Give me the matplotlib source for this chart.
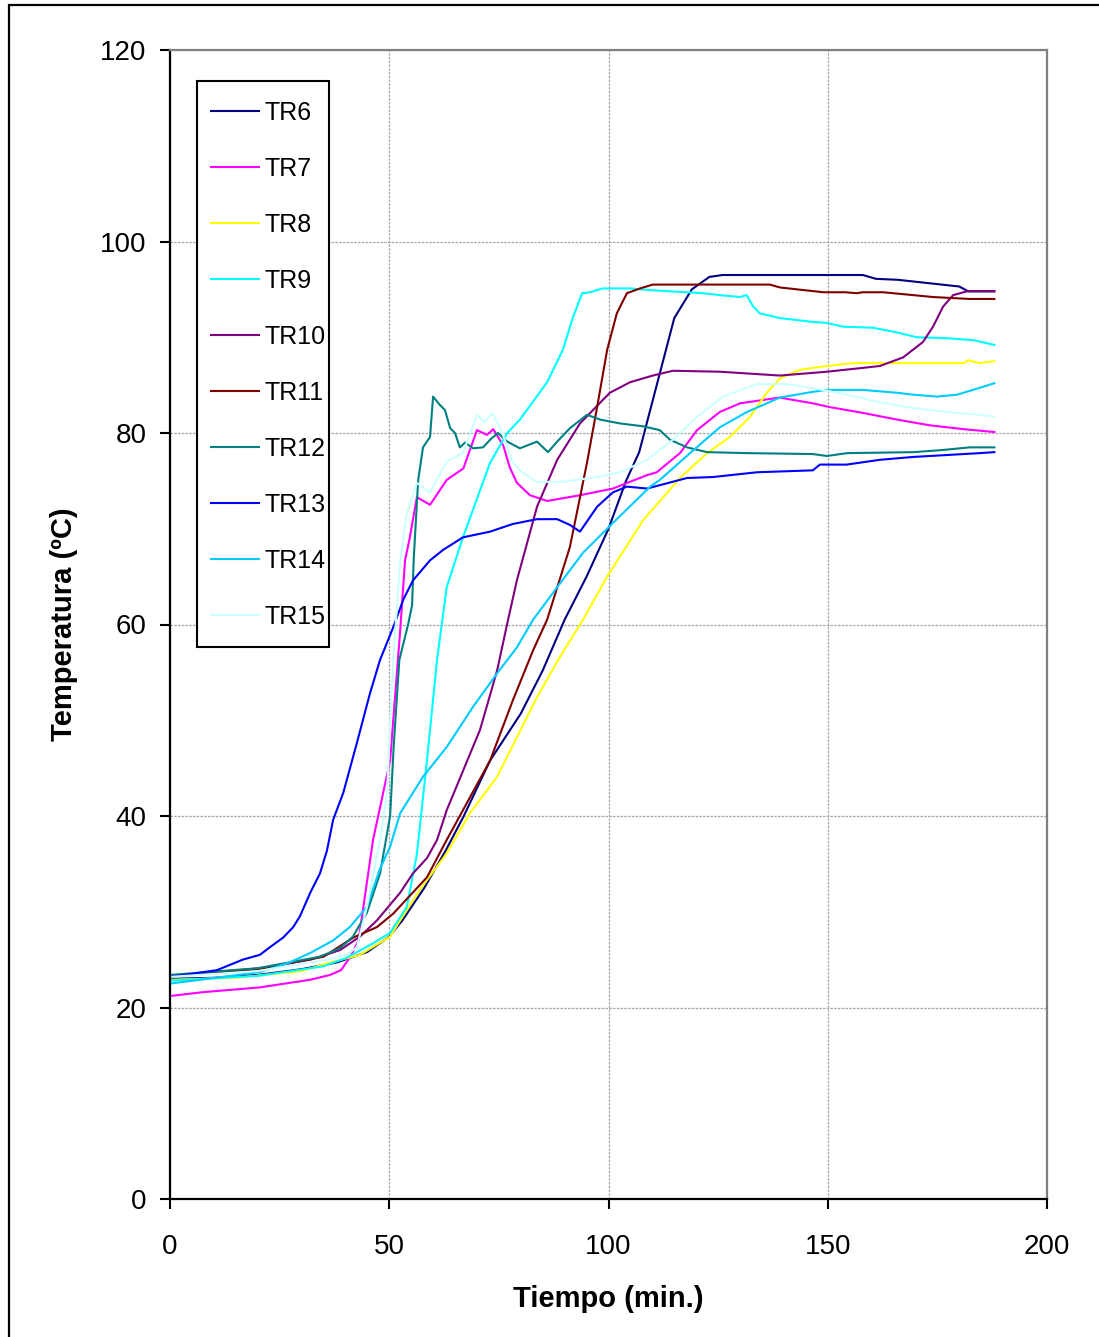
import matplotlib.pyplot as plt
from matplotlib.patches import Rectangle

plt.rcParams['font.family'] = ['Liberation Sans', 'DejaVu Sans']

# Temperatures (ºC) against time (min) for each thermocouple
tr6_t = [0, 10, 20, 30, 38, 45, 50, 53, 58, 63, 67, 73, 80, 85, 90, 95, 100, 104, 107, 111, 115, 119, 123, 126, 158, 161, 166, 172, 180, 182, 188]
tr6_T = [23.0, 23.1, 23.4, 24.0, 24.7, 25.8, 27.4, 29.1, 32.5, 36.5, 40.0, 45.8, 50.7, 55.2, 60.5, 65.0, 70.0, 75.0, 78.0, 85.0, 92.0, 95.0, 96.3, 96.5, 96.5, 96.1, 96.0, 95.7, 95.3, 94.8, 94.8]

tr7_t = [0, 7.5, 20.5, 32, 36.5, 39, 41, 43, 46.3, 50.2, 52.5, 53.6, 54.7, 56.3, 59.3, 63.1, 66.9, 70, 72.3, 73.7, 76, 77.5, 79.1, 82.1, 86, 93.5, 101, 108.8, 111, 116.3, 120.2, 125.4, 130, 139, 146.6, 150.5, 158, 165.8, 173.3, 181, 188]
tr7_T = [21.2, 21.6, 22.1, 22.9, 23.4, 23.9, 25.2, 27.0, 37.5, 45.8, 59.4, 66.7, 69.1, 73.3, 72.5, 75.1, 76.3, 80.3, 79.8, 80.4, 78.7, 76.4, 74.8, 73.5, 72.9, 73.5, 74.2, 75.6, 75.9, 77.9, 80.3, 82.2, 83.1, 83.7, 83.1, 82.7, 82.1, 81.4, 80.8, 80.4, 80.1]

tr8_t = [0, 15, 30, 35.8, 43.3, 50.2, 52.5, 57, 63.1, 68.4, 74.6, 83.7, 88.9, 94.2, 99.7, 107.9, 116.3, 122.5, 127.7, 132.3, 136.1, 139.1, 143.7, 149.8, 155.8, 181, 182, 184.7, 188]
tr8_T = [22.9, 23.1, 23.8, 24.6, 25.5, 27.4, 29.1, 32.3, 36.1, 40.3, 44.1, 52.4, 56.6, 60.5, 65.0, 70.9, 75.3, 77.9, 79.6, 81.7, 84.2, 85.7, 86.6, 87.0, 87.3, 87.3, 87.6, 87.3, 87.5]

tr9_t = [0, 20, 35, 40.3, 46.3, 50.2, 54, 56.3, 58.6, 60.9, 63.1, 66.8, 73, 76.9, 79.8, 86, 89.6, 91.9, 94, 95.8, 98.7, 104.9, 110.1, 121.5, 125.4, 130, 131.5, 133, 134.5, 139.1, 146.6, 149.8, 153.5, 160.3, 165.8, 170.3, 177.2, 183.1, 188]
tr9_T = [22.8, 23.3, 24.3, 25.2, 26.7, 27.8, 30.5, 36.0, 45.8, 56.3, 63.9, 69.1, 76.9, 80.0, 81.4, 85.3, 88.7, 92.1, 94.6, 94.7, 95.1, 95.1, 94.9, 94.6, 94.4, 94.2, 94.4, 93.2, 92.5, 92.0, 91.6, 91.5, 91.1, 91.0, 90.5, 90.0, 89.9, 89.7, 89.2]

tr10_t = [0, 20.5, 32, 38.8, 43.3, 47.2, 52.5, 55.4, 58.6, 60.9, 63.1, 70.7, 74.6, 77.1, 79.1, 83.7, 88.3, 93.5, 100.3, 104.9, 110.1, 114.7, 125.4, 139.1, 149.8, 158, 161.9, 167.2, 171.7, 174, 176.3, 178.6, 181.8, 188]
tr10_T = [23.3, 24.1, 25.0, 26.0, 27.4, 29.1, 32.0, 34.0, 35.6, 37.5, 40.6, 49.0, 55.2, 60.5, 64.6, 72.3, 77.2, 81.0, 84.2, 85.3, 86.0, 86.5, 86.4, 86.0, 86.4, 86.8, 87.0, 87.9, 89.5, 91.1, 93.2, 94.4, 94.8, 94.8]

tr11_t = [0, 20, 35, 41.8, 47.2, 50.9, 58.6, 63.1, 66.8, 73, 78.2, 82.8, 86, 91.2, 95.1, 97.4, 99.7, 101.9, 104.2, 107.2, 110.1, 136.8, 139.1, 143, 149, 154, 156.6, 158, 162.6, 169.5, 174, 182.4, 188]
tr11_T = [23.3, 24.0, 25.3, 27.3, 28.4, 29.8, 33.6, 37.5, 40.6, 45.8, 52.1, 57.3, 60.5, 68.1, 76.9, 82.7, 88.7, 92.5, 94.6, 95.1, 95.5, 95.5, 95.2, 95.0, 94.7, 94.7, 94.6, 94.7, 94.7, 94.4, 94.2, 94.0, 94.0]

tr12_t = [0, 20, 34.2, 38.8, 41.7, 44.9, 47.9, 50.2, 51, 52.3, 54.3, 55.2, 55.6, 56.6, 57.7, 59.3, 60, 61.6, 62.7, 63.9, 65, 66.1, 67.3, 69.1, 71.4, 73, 74.8, 76.9, 79.8, 83.7, 86.2, 88.3, 91.2, 95.1, 98.1, 102.6, 107.9, 111.7, 114, 117.9, 122.5, 131.6, 146.6, 149.8, 154.5, 169.5, 175.6, 182.4, 188]
tr12_T = [23.4, 24.1, 25.3, 26.2, 27.4, 29.9, 34.0, 40.0, 47.2, 56.3, 60.0, 62.0, 67.0, 75.1, 78.5, 79.6, 83.8, 82.9, 82.4, 80.5, 80.0, 78.5, 79.0, 78.4, 78.5, 79.3, 80.0, 79.1, 78.4, 79.1, 78.0, 79.1, 80.5, 81.9, 81.4, 81.0, 80.7, 80.3, 79.3, 78.5, 78.0, 77.9, 77.8, 77.6, 77.9, 78.0, 78.2, 78.5, 78.5]

tr13_t = [0, 10.7, 16.6, 20.5, 22.8, 25.8, 28.1, 29.6, 32, 34.2, 35.8, 37.2, 39.5, 42.6, 45.6, 47.9, 50.9, 53.2, 55.4, 59.3, 62.3, 66.8, 73, 78.2, 83.7, 88.3, 91.2, 93.5, 97.4, 101, 104.2, 108.8, 117.9, 123.8, 133.9, 146.6, 148.2, 154.3, 161.9, 169.5, 177.2, 184.7, 188]
tr13_T = [23.2, 23.9, 25.0, 25.5, 26.3, 27.3, 28.4, 29.5, 32.0, 34.0, 36.4, 39.6, 42.4, 47.6, 52.8, 56.3, 59.7, 62.6, 64.6, 66.7, 67.8, 69.1, 69.7, 70.5, 71.0, 71.0, 70.4, 69.7, 72.3, 73.8, 74.4, 74.2, 75.3, 75.4, 75.9, 76.1, 76.7, 76.7, 77.2, 77.5, 77.7, 77.9, 78.0]

tr14_t = [0, 5.3, 20.5, 26.7, 32, 37.2, 41, 44.9, 47.9, 50.2, 52.5, 57.7, 63.1, 69.1, 74.6, 79.1, 82.8, 88.3, 94.2, 101, 109.5, 111.7, 118.6, 125.4, 131.6, 139.1, 146.6, 149.8, 158, 165.8, 169.5, 174.9, 179.5, 183.1, 188]
tr14_T = [22.5, 22.8, 23.7, 24.6, 25.7, 27.0, 28.4, 30.5, 34.5, 36.8, 40.3, 44.1, 47.2, 51.4, 54.9, 57.6, 60.5, 63.9, 67.5, 70.6, 74.4, 75.1, 77.9, 80.6, 82.2, 83.7, 84.3, 84.5, 84.5, 84.2, 84.0, 83.8, 84.0, 84.5, 85.2]

tr15_t = [0, 20, 35.8, 40.3, 42.6, 44.9, 47.9, 49.5, 50.9, 52.5, 54, 56.3, 59.3, 63.1, 66.8, 70, 71.8, 73.4, 75.3, 78.2, 80.5, 83.7, 89.6, 97.4, 102.6, 108.8, 114.7, 120.2, 126.1, 133.9, 140.7, 146.6, 154.4, 161.9, 169.5, 177.2, 184.7, 188]
tr15_T = [23.2, 23.8, 25.0, 25.5, 26.3, 30.5, 37.5, 42.4, 56.3, 66.7, 71.6, 74.8, 73.8, 77.0, 77.9, 81.9, 81.1, 82.1, 80.6, 76.9, 75.8, 74.9, 74.9, 75.4, 75.9, 77.2, 79.3, 81.7, 83.8, 85.1, 85.1, 84.7, 84.0, 83.2, 82.6, 82.2, 81.9, 81.7]

series = [
    ('TR6', tr6_t, tr6_T, '#000080'),
    ('TR7', tr7_t, tr7_T, '#FF00FF'),
    ('TR8', tr8_t, tr8_T, '#FFFF00'),
    ('TR9', tr9_t, tr9_T, '#00FFFF'),
    ('TR10', tr10_t, tr10_T, '#800080'),
    ('TR11', tr11_t, tr11_T, '#800000'),
    ('TR12', tr12_t, tr12_T, '#008080'),
    ('TR13', tr13_t, tr13_T, '#0000FF'),
    ('TR14', tr14_t, tr14_T, '#00CCFF'),
    ('TR15', tr15_t, tr15_T, '#CCFFFF'),
]

fig = plt.figure(figsize=(10.99, 13.37), dpi=100)
ax = fig.add_axes([170 / 1099, 1 - 1199 / 1337, 877 / 1099, 1149 / 1337])

for name, t, T, color in series:
    ax.plot(t, T, color=color, linewidth=1.5, label=name)

ax.set_xlim(0, 200)
ax.set_ylim(0, 120)
ax.set_xticks([0, 50, 100, 150, 200])
ax.set_yticks([0, 20, 40, 60, 80, 100, 120])
ax.grid(True, color='#a6a6a6', linestyle=(0, (2, 1)), linewidth=0.9)
ax.set_axisbelow(True)

ax.tick_params(axis='both', direction='out', length=7, width=1.5, labelsize=20, colors='black')
ax.tick_params(axis='x', pad=18)
ax.tick_params(axis='y', pad=10)

for side in ['left', 'bottom']:
    ax.spines[side].set_color('black')
    ax.spines[side].set_linewidth(1.6)
for side in ['top', 'right']:
    ax.spines[side].set_color('#808080')
    ax.spines[side].set_linewidth(1.6)

ax.set_xlabel('Tiempo (min.)', fontsize=21, fontweight='bold', labelpad=18)
ax.set_ylabel('Temperatura (ºC)', fontsize=21, fontweight='bold', labelpad=16)

# legend entries without frame; the box is drawn separately
leg = ax.legend(loc='upper left', bbox_to_anchor=(41 / 877, (1199 - 101) / 1149), fontsize=18,
                frameon=False, borderpad=0, labelspacing=1.28,
                handlelength=1.9, handletextpad=0.25, borderaxespad=0)
for line in leg.get_lines():
    line.set_linewidth(1.5)
ax.add_patch(Rectangle((27 / 877, (1199 - 647) / 1149), 132 / 877, 566 / 1149,
                       transform=ax.transAxes, fill=True, facecolor='white',
                       edgecolor='black', linewidth=1.5, zorder=4))
leg.set_zorder(5)

# outer chart border
fig.add_artist(Rectangle((9 / 1099, -0.05), 1.2, 1.05 - 5 / 1337, transform=fig.transFigure,
                         fill=False, edgecolor='black', linewidth=1.6))

fig.savefig('out.png', dpi=100)
